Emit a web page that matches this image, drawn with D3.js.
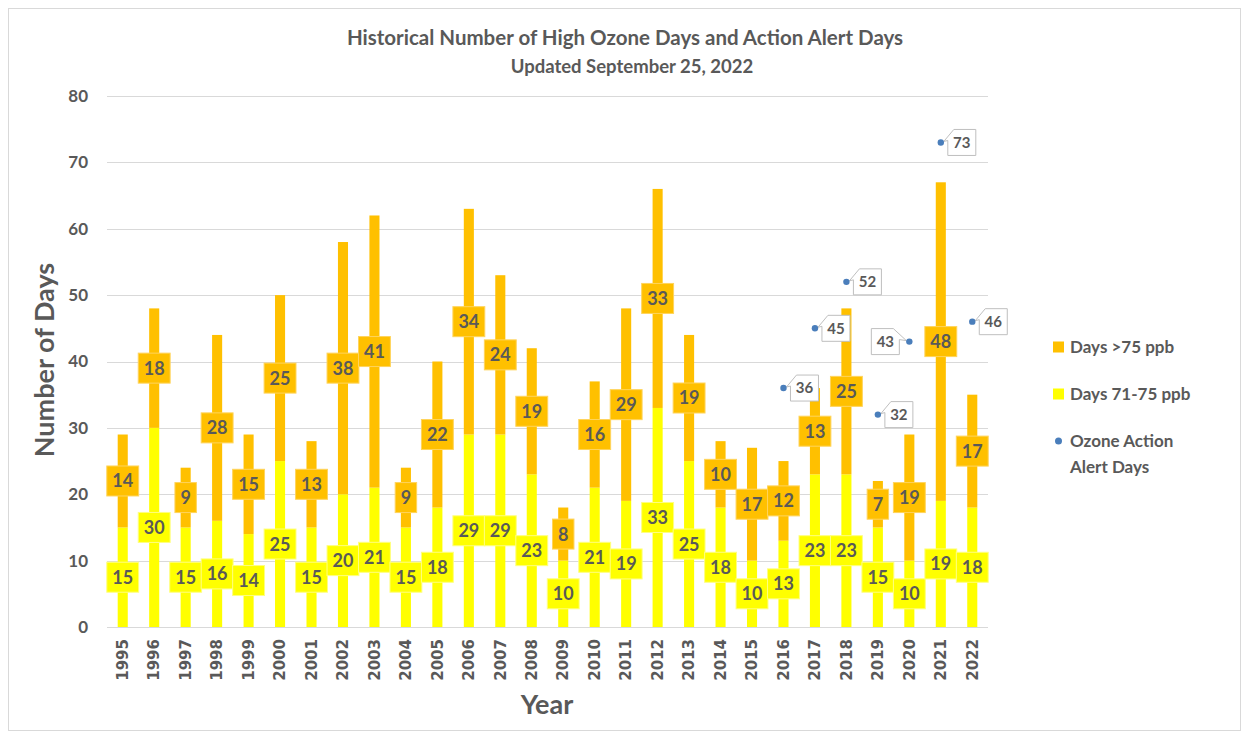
<!DOCTYPE html>
<html>
<head>
<meta charset="utf-8">
<script src="https://cdn.jsdelivr.net/npm/d3@7"></script>
<style>
  body { margin: 0; background: #fff; }
  svg { display: block; }
</style>
</head>
<body>
<svg id="chart" width="1249" height="734"></svg>
<script>
const years = ["1995","1996","1997","1998","1999","2000","2001","2002","2003","2004","2005","2006","2007","2008","2009","2010","2011","2012","2013","2014","2015","2016","2017","2018","2019","2020","2021","2022"];
const days7175 = [15,30,15,16,14,25,15,20,21,15,18,29,29,23,10,21,19,33,25,18,10,13,23,23,15,10,19,18];
const daysOver75 = [14,18,9,28,15,25,13,38,41,9,22,34,24,19,8,16,29,33,19,10,17,12,13,25,7,19,48,17];
const alertYears = ["2016","2017","2018","2019","2020","2021","2022"];
const alertDays = [36,45,52,32,43,73,46];
const alertLabelSide = ["right","right","right","right","left","right","right"];
const yTicks = [0,10,20,30,40,50,60,70,80];

const C_ORANGE = "#FFC000", C_YELLOW = "#FFFF00", C_BLUE = "#4A7EBB", C_TEXT = "#595959";
const FONT = "Lato, 'Open Sans', sans-serif";

const svg = d3.select("#chart");
const m = {left: 107, right: 988, top: 96, bottom: 627};

// outer border
svg.append("rect").attr("x", 8.5).attr("y", 8.5).attr("width", 1232).attr("height", 722)
  .attr("fill", "none").attr("stroke", "#d9d9d9");

const x = d3.scaleBand().domain(years).range([m.left, m.right]).padding(0);
const y = d3.scaleLinear().domain([0, 80]).range([m.bottom, m.top]);
const barW = x.bandwidth() * 0.32;

// gridlines
svg.append("g").selectAll("line").data(yTicks).join("line")
  .attr("x1", m.left).attr("x2", m.right)
  .attr("y1", d => Math.round(y(d)) + 0.5).attr("y2", d => Math.round(y(d)) + 0.5)
  .attr("stroke", "#d9d9d9").attr("stroke-width", 1);

// y axis labels
const yAxis = d3.axisLeft(y).tickValues(yTicks).tickSize(0).tickPadding(0);
const gy = svg.append("g").attr("transform", `translate(${m.left - 19},0)`).call(yAxis);
gy.select(".domain").remove();
gy.selectAll("text").attr("fill", C_TEXT).style("font", `bold 17px ${FONT}`);

// x axis labels
const xAxis = d3.axisBottom(x).tickSize(0).tickPadding(0);
const gx = svg.append("g").attr("transform", `translate(0,${m.bottom})`).call(xAxis);
gx.select(".domain").remove();
gx.selectAll("text")
  .attr("transform", "rotate(-90)")
  .attr("x", -12).attr("y", 0).attr("dy", "0.35em")
  .attr("text-anchor", "end")
  .attr("fill", C_TEXT)
  .style("font", "bold 15px 'DejaVu Sans', Verdana, sans-serif");

// stacked bars
const rows = years.map((yr, i) => ({yr, a: days7175[i], b: daysOver75[i]}));
const bars = svg.append("g");
bars.selectAll("rect.y").data(rows).join("rect")
  .attr("x", d => x(d.yr) + x.bandwidth()/2 - barW/2).attr("width", barW)
  .attr("y", d => y(d.a)).attr("height", d => y(0) - y(d.a))
  .attr("fill", C_YELLOW);
bars.selectAll("rect.o").data(rows).join("rect")
  .attr("x", d => x(d.yr) + x.bandwidth()/2 - barW/2).attr("width", barW)
  .attr("y", d => y(d.a + d.b)).attr("height", d => y(d.a) - y(d.a + d.b))
  .attr("fill", C_ORANGE);

// bar labels
function segLabel(g, cx, cy, txt, fill) {
  const grp = g.append("g");
  const rect = grp.append("rect").attr("fill", fill).attr("stroke", fill === C_ORANGE ? "#FFD45C" : "#FFFF80").attr("stroke-width", 1);
  const t = grp.append("text").attr("x", cx).attr("y", cy).attr("dy", "0.36em")
    .attr("text-anchor", "middle").attr("fill", C_TEXT)
    .style("font", `bold 18px ${FONT}`).text(txt);
  const w = t.node().getComputedTextLength() + 11;
  rect.attr("x", cx - w/2).attr("y", cy - 15).attr("width", w).attr("height", 30);
}
const labels = svg.append("g");
rows.forEach(d => {
  const cx = x(d.yr) + x.bandwidth()/2;
  segLabel(labels, cx, y(d.a/2), d.a, C_YELLOW);
  segLabel(labels, cx, y(d.a + d.b/2), d.b, C_ORANGE);
});

// alert points with callouts
const alerts = svg.append("g");
alertYears.forEach((yr, i) => {
  const px = x(yr) + x.bandwidth()/2, py = y(alertDays[i]);
  const side = alertLabelSide[i];
  const w = 28;
  const g = alerts.append("g");
  let L, R, T = py - 13, B = py + 13;
  let path;
  if (side === "right") {
    L = px + 7; R = L + w;
    path = `M${L+6},${T} H${R} V${B} H${L} V${T+11} L${px+3},${py-1} Z`;
  } else {
    R = px - 10; L = R - w;
    path = `M${L},${T} H${R-6} L${px-3},${py-1} L${R},${T+11} V${B} H${L} Z`;
  }
  g.append("path").attr("d", path).attr("fill", "#fff").attr("stroke", "#bfbfbf").attr("stroke-width", 1);
  g.append("text").attr("x", (L + R)/2).attr("y", py).attr("dy", "0.36em")
    .attr("text-anchor", "middle").attr("fill", C_TEXT)
    .style("font", `bold 15px ${FONT}`).text(alertDays[i]);
  g.append("circle").attr("cx", px).attr("cy", py).attr("r", 3.2).attr("fill", C_BLUE);
});

// titles
svg.append("text").attr("x", 625).attr("y", 45).attr("text-anchor", "middle")
  .attr("fill", C_TEXT).style("font", `bold 20.5px ${FONT}`)
  .text("Historical Number of High Ozone Days and Action Alert Days");
svg.append("text").attr("x", 632).attr("y", 73).attr("text-anchor", "middle")
  .attr("fill", C_TEXT).style("font", `bold 18.5px ${FONT}`)
  .text("Updated September 25, 2022");

svg.append("text").attr("transform", "translate(54,360) rotate(-90)")
  .attr("text-anchor", "middle").attr("fill", C_TEXT)
  .style("font", `bold 27px ${FONT}`).text("Number of Days");
svg.append("text").attr("x", 547).attr("y", 714).attr("text-anchor", "middle")
  .attr("fill", C_TEXT).style("font", `bold 27px ${FONT}`).text("Year");

// legend
const leg = svg.append("g");
const legItems = [
  {type: "rect", color: C_ORANGE, lines: ["Days >75 ppb"], y: 347},
  {type: "rect", color: C_YELLOW, lines: ["Days 71-75 ppb"], y: 394},
  {type: "circle", color: C_BLUE, lines: ["Ozone Action", "Alert Days"], y: 441}
];
legItems.forEach(it => {
  if (it.type === "rect") {
    leg.append("rect").attr("x", 1053).attr("y", it.y - 5.5).attr("width", 11).attr("height", 11).attr("fill", it.color);
  } else {
    leg.append("circle").attr("cx", 1058.5).attr("cy", it.y).attr("r", 3.5).attr("fill", it.color);
  }
  it.lines.forEach((ln, j) => {
    leg.append("text").attr("x", 1070).attr("y", it.y + j * 26).attr("dy", "0.36em")
      .attr("fill", C_TEXT).style("font", `bold 17px ${FONT}`).text(ln);
  });
});
</script>
</body>
</html>
